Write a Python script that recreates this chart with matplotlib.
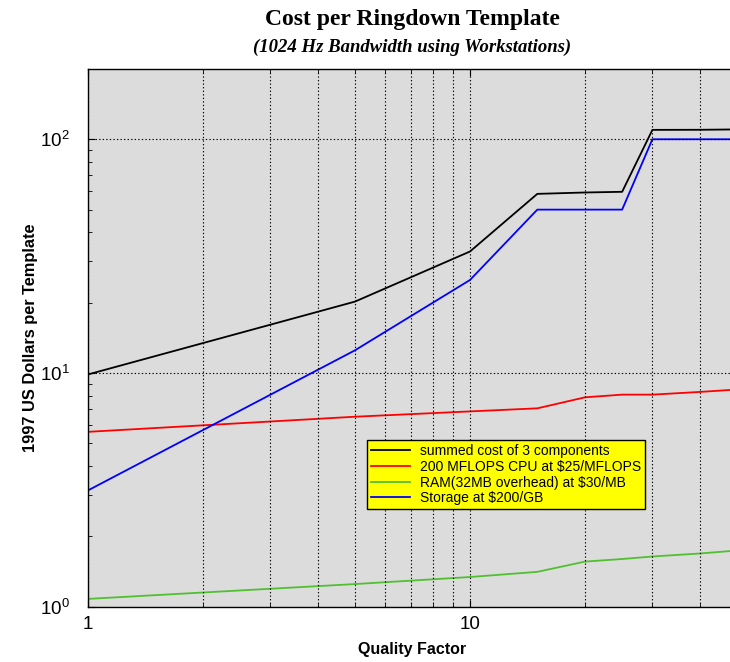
import matplotlib
matplotlib.use("Agg")
import matplotlib.pyplot as plt
from matplotlib.ticker import FuncFormatter, NullFormatter, LogLocator

plt.rcParams['font.family'] = ['Liberation Sans', 'DejaVu Sans']
plt.rcParams['mathtext.default'] = 'regular'

# Data
quality = [1, 5, 10, 15, 20, 25, 30, 40, 50]
summed = [9.85, 20.2, 33.1, 58.4, 59.2, 59.6, 109.7, 109.8, 110.2]
cpu = [5.6, 6.5, 6.85, 7.06, 7.87, 8.08, 8.08, 8.3, 8.5]
ram = [1.08, 1.25, 1.34, 1.41, 1.56, 1.60, 1.64, 1.69, 1.74]
storage = [3.14, 12.5, 25.0, 50.0, 50.0, 50.0, 100.0, 100.0, 100.0]

labels = ["summed cost of 3 components",
          "200 MFLOPS CPU at $25/MFLOPS",
          "RAM(32MB overhead) at $30/MB",
          "Storage at $200/GB"]
colors = ["black", "#ff0000", "#50c030", "#0000ff"]

fig = plt.figure(figsize=(7.30, 6.62), dpi=100)
ax = fig.add_axes([0.1201, 0.0835, 1.0099 - 0.1201, 0.8959 - 0.0835])
ax.set_facecolor("#dcdcdc")

for series, lab, col in zip([summed, cpu, ram, storage], labels, colors):
    ax.plot(quality, series, color=col, lw=1.3, label=lab)

ax.set_xscale("log")
ax.set_yscale("log")
ax.set_xlim(1, 50)
ax.set_ylim(1, 200)

ax.xaxis.set_major_formatter(FuncFormatter(lambda v, p: f"{v:g}"))
ax.xaxis.set_minor_formatter(NullFormatter())
ax.yaxis.set_minor_formatter(NullFormatter())
ax.yaxis.set_minor_locator(LogLocator(base=10, subs=range(2, 10)))

ax.tick_params(which="both", direction="in", top=True, right=True,
               labelsize=13.5, color="black")
ax.tick_params(which="major", length=5)
ax.tick_params(which="minor", length=3)
ax.tick_params(axis="x", pad=7)
ax.tick_params(axis="y", pad=13)

ax.grid(True, which="major", axis="both", color="black", linestyle=(0, (1.2, 2)), lw=0.8)
ax.grid(True, which="minor", axis="x", color="black", linestyle=(0, (1.2, 2)), lw=0.8)
ax.set_axisbelow(False)

for s in ax.spines.values():
    s.set_color("black")
    s.set_linewidth(1.0)

ax.set_xlabel("Quality Factor", fontsize=11.5, fontweight="bold", labelpad=6)
ax.set_ylabel("1997 US Dollars per Template", fontsize=11.8, fontweight="bold", labelpad=1)

fig.text(0.565, 0.970, "Cost per Ringdown Template", ha="center", va="center",
         fontsize=17, fontweight="bold", family="Liberation Serif")
fig.text(0.565, 0.928, "(1024 Hz Bandwidth using Workstations)", ha="center", va="center",
         fontsize=13.5, fontweight="bold", style="italic", family="Liberation Serif")

leg = ax.legend(loc="upper left", bbox_to_anchor=(0.430, 0.31), fontsize=10,
                frameon=True, fancybox=False, framealpha=1, facecolor="yellow",
                edgecolor="black", borderaxespad=0, labelspacing=0.12,
                borderpad=0.3, handlelength=2.8, handletextpad=0.7)
leg.get_frame().set_linewidth(1.0)

fig.savefig("out.png", dpi=100)
